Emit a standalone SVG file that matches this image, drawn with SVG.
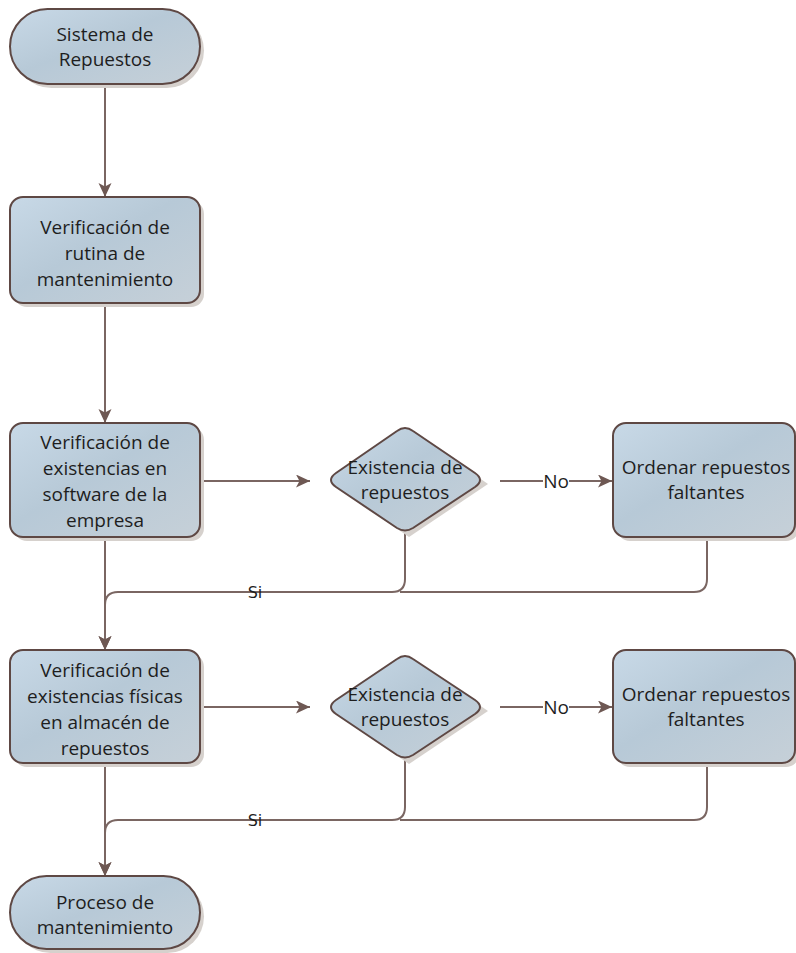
<svg xmlns="http://www.w3.org/2000/svg" width="796" height="953" viewBox="0 0 796 953">
  <defs>
    <linearGradient id="fillGrad" x1="0" y1="0" x2="1" y2="1">
      <stop offset="0" stop-color="#c8d9e7"/>
      <stop offset="0.45" stop-color="#b7c9d7"/>
      <stop offset="1" stop-color="#c6d0d8"/>
    </linearGradient>
    <marker id="arrow" markerUnits="userSpaceOnUse" markerWidth="16" markerHeight="14" refX="14" refY="6.5" orient="auto">
      <path d="M0,0 L14,6.5 L0,13 L3.5,6.5 Z" fill="#6e5853"/>
    </marker>
  </defs>
  <style>
    .shape { fill: url(#fillGrad); stroke: #5e4844; stroke-width: 2; }
    .shadow { fill: #d6d1cd; }
    .lbl { font-family: "Open Sans", "Liberation Sans", sans-serif; font-size: 19px; fill: #1e1e1e; text-anchor: middle; }
    .si { font-family: "DejaVu Sans", sans-serif; font-size: 16px; fill: #1e1e1e; text-anchor: middle; }
    .conn { fill: none; stroke: #7a6662; stroke-width: 2; }
  </style>
  <rect width="796" height="953" fill="#ffffff"/>

  <g id="connectors">
    <path class="conn" d="M105,84 V197" marker-end="url(#arrow)"/>
    <path class="conn" d="M105,303 V423" marker-end="url(#arrow)"/>
    <path class="conn" d="M200,481 H310" marker-end="url(#arrow)"/>
    <path class="conn" d="M500,481 H612" marker-end="url(#arrow)"/>
    <path class="conn" d="M105,537 V650" marker-end="url(#arrow)"/>
    <path class="conn" d="M405,533 V579 Q405,592 392,592 H118 Q105,592 105,605 V650" marker-end="url(#arrow)"/>
    <path class="conn" d="M707,537 V579 Q707,592 694,592 H400"/>
    <path class="conn" d="M200,707 H310" marker-end="url(#arrow)"/>
    <path class="conn" d="M500,707 H612" marker-end="url(#arrow)"/>
    <path class="conn" d="M105,763 V876" marker-end="url(#arrow)"/>
    <path class="conn" d="M405,760 V807 Q405,820 392,820 H118 Q105,820 105,833 V876" marker-end="url(#arrow)"/>
    <path class="conn" d="M707,763 V807 Q707,820 694,820 H400"/>
    <rect x="543" y="470" width="26" height="22" fill="#ffffff"/>
    <text class="lbl" x="556" y="488">No</text>
    <rect x="543" y="696" width="26" height="22" fill="#ffffff"/>
    <text class="lbl" x="556" y="714">No</text>
    <text class="si" x="255" y="598">Si</text>
    <text class="si" x="255" y="826">Si</text>
  </g>

  <g id="start">
    <rect class="shadow" x="14" y="13" width="190" height="75" rx="37.5"/>
    <rect class="shape" x="10" y="9" width="190" height="75" rx="37.5"/>
    <text class="lbl" x="105" y="41">Sistema de</text>
    <text class="lbl" x="105" y="66">Repuestos</text>
  </g>

  <g id="rutina">
    <rect class="shadow" x="14" y="201" width="190" height="106" rx="13"/>
    <rect class="shape" x="10" y="197" width="190" height="106" rx="13"/>
    <text class="lbl" x="105" y="234">Verificación de</text>
    <text class="lbl" x="105" y="260">rutina de</text>
    <text class="lbl" x="105" y="286">mantenimiento</text>
  </g>

  <g id="software">
    <rect class="shadow" x="14" y="427" width="190" height="114" rx="13"/>
    <rect class="shape" x="10" y="423" width="190" height="114" rx="13"/>
    <text class="lbl" x="105" y="449">Verificación de</text>
    <text class="lbl" x="105" y="475">existencias en</text>
    <text class="lbl" x="105" y="501">software de la</text>
    <text class="lbl" x="105" y="527">empresa</text>
  </g>

  <g id="decision1">
    <path class="shadow" d="M409,429 L488,484 L409,537 L332,484 Z"/>
    <path class="shape" d="M397,431 Q405,425 413,431 L475,473 Q485,480 475,487 L413,528 Q405,533 397,528 L336,487 Q326,480 336,473 Z"/>
    <text class="lbl" x="405" y="474">Existencia de</text>
    <text class="lbl" x="405" y="499">repuestos</text>
  </g>

  <g id="ordenar1">
    <rect class="shadow" x="617" y="427" width="182" height="114" rx="13"/>
    <rect class="shape" x="613" y="423" width="182" height="114" rx="13"/>
    <text class="lbl" x="706" y="474">Ordenar repuestos</text>
    <text class="lbl" x="706" y="499">faltantes</text>
  </g>

  <g id="fisicas">
    <rect class="shadow" x="14" y="654" width="190" height="113" rx="13"/>
    <rect class="shape" x="10" y="650" width="190" height="113" rx="13"/>
    <text class="lbl" x="105" y="677">Verificación de</text>
    <text class="lbl" x="105" y="703">existencias físicas</text>
    <text class="lbl" x="105" y="729">en almacén de</text>
    <text class="lbl" x="105" y="755">repuestos</text>
  </g>

  <g id="decision2">
    <path class="shadow" d="M409,657 L488,711 L409,764 L332,711 Z"/>
    <path class="shape" d="M397,659 Q405,653 413,659 L475,700 Q485,707 475,714 L413,755 Q405,760 397,755 L336,714 Q326,707 336,700 Z"/>
    <text class="lbl" x="405" y="701">Existencia de</text>
    <text class="lbl" x="405" y="726">repuestos</text>
  </g>

  <g id="ordenar2">
    <rect class="shadow" x="617" y="654" width="182" height="113" rx="13"/>
    <rect class="shape" x="613" y="650" width="182" height="113" rx="13"/>
    <text class="lbl" x="706" y="701">Ordenar repuestos</text>
    <text class="lbl" x="706" y="726">faltantes</text>
  </g>

  <g id="end">
    <rect class="shadow" x="14" y="880" width="190" height="73" rx="36.5"/>
    <rect class="shape" x="10" y="876" width="190" height="73" rx="36.5"/>
    <text class="lbl" x="105" y="909">Proceso de</text>
    <text class="lbl" x="105" y="934">mantenimiento</text>
  </g>
</svg>
